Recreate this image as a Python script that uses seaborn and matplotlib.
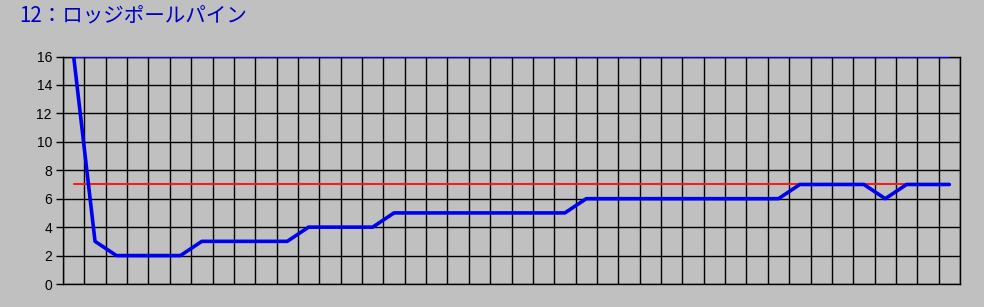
import numpy as np
import pandas as pd
import matplotlib
matplotlib.use("Agg")
import matplotlib.pyplot as plt
import seaborn as sns

title = "12：ロッジポールパイン"
periods = list(range(42))
values = [16, 3, 2, 2, 2, 2, 3, 3, 3, 3, 3, 4, 4, 4, 4,
          5, 5, 5, 5, 5, 5, 5, 5, 5,
          6, 6, 6, 6, 6, 6, 6, 6, 6, 6,
          7, 7, 7, 7, 6, 7, 7, 7]
upper = [16] * 42
target = [7] * 42
yticks = [0, 2, 4, 6, 8, 10, 12, 14, 16]

sns.set_theme(style="white")
plt.rcParams['font.family'] = ['Liberation Sans', 'DejaVu Sans']

bg = "#C0C0C0"
fig = plt.figure(figsize=(9.84, 3.07), dpi=100, facecolor=bg)
ax = fig.add_axes([63/984, 1-284/307, (960-63)/984, (284-56.5)/307])
ax.set_facecolor(bg)

df = pd.DataFrame({"x": periods, "v": values, "u": upper, "t": target})
sns.lineplot(data=df, x="x", y="u", ax=ax, color="#0000FF", linewidth=1.6, zorder=3)
sns.lineplot(data=df, x="x", y="t", ax=ax, color="#F02020", linewidth=1.5, zorder=3)
sns.lineplot(data=df, x="x", y="v", ax=ax, color="#0000F0", linewidth=2.6, zorder=4)

n = len(periods)
ax.set_xlim(-0.5, n - 0.5)
ax.set_ylim(0, 16)
ax.set_xticks(np.arange(-0.5, n, 1.0))
ax.set_xticklabels([])
ax.set_yticks(yticks)
ax.set_yticklabels([str(v) for v in yticks], fontsize=10, color="black")
ax.tick_params(axis='x', length=0)
ax.tick_params(axis='y', length=5, width=1, color='black', direction='out', pad=3, left=True)
ax.grid(True, color='black', linewidth=1.0)
ax.set_axisbelow(True)
for s in ['left', 'bottom', 'right', 'top']:
    ax.spines[s].set_visible(True)
    ax.spines[s].set_color('black')
    ax.spines[s].set_linewidth(1.0)
ax.set_xlabel("")
ax.set_ylabel("")

fig.text(19/984, 1-15/307, title, fontsize=14.8, color="#0000C0", va="center", ha="left",
         family=['Noto Sans CJK JP', 'DejaVu Sans'])

fig.savefig("out.png", dpi=100, facecolor=bg)
